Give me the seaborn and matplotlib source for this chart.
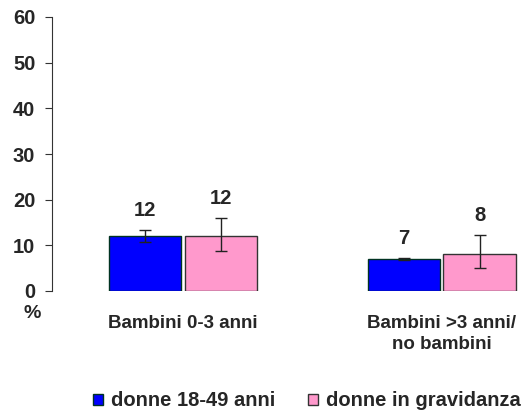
import numpy as np
import pandas as pd
import matplotlib
matplotlib.use("Agg")
import matplotlib.pyplot as plt
import seaborn as sns
from matplotlib.patches import Patch

# ── Data ───────────────────────────────────────────────────────────────────────
categories = ["Bambini 0-3 anni", "Bambini >3 anni/\nno bambini"]
groups     = ["donne 18-49 anni", "donne in gravidanza"]
values     = {"donne 18-49 anni": [12, 7], "donne in gravidanza": [12, 8]}
err_low    = {"donne 18-49 anni": [10.7, 6.7], "donne in gravidanza": [8.8, 5.1]}
err_high   = {"donne 18-49 anni": [13.3, 7.3], "donne in gravidanza": [16.0, 12.2]}
colors     = {"donne 18-49 anni": "#0000FF", "donne in gravidanza": "#FF99CC"}
edges      = {"donne 18-49 anni": "#003322", "donne in gravidanza": "#333333"}
y_ticks    = [0, 10, 20, 30, 40, 50, 60]

rows = []
for g in groups:
    for c, v, lo, hi in zip(categories, values[g], err_low[g], err_high[g]):
        rows.append({"cat": c, "group": g, "val": v, "lo": lo, "hi": hi})
df = pd.DataFrame(rows)

sns.set_style("white")
plt.rcParams["font.family"] = ["Liberation Sans", "DejaVu Sans"]
plt.rcParams["font.weight"] = "bold"
FS = 14

fig = plt.figure(figsize=(5.29, 4.16), dpi=100)
ax = fig.add_axes([52 / 529, 1 - 291 / 416, (527 - 52) / 529, (291 - 17) / 416])

sns.barplot(data=df, x="cat", y="val", hue="group", order=categories,
            hue_order=groups, palette=colors, width=0.586, gap=0.045,
            saturation=1, errorbar=None, legend=False, ax=ax)

# colour edges per series and add error bars + labels
for cont, g in zip(ax.containers, groups):
    sub = df[df["group"] == g].set_index("cat").loc[categories]
    for bar, (_, r) in zip(cont, sub.iterrows()):
        bar.set_edgecolor(edges[g])
        bar.set_linewidth(1.0)
        xc = bar.get_x() + bar.get_width() / 2
        ax.errorbar(xc, r["val"], yerr=[[r["val"] - r["lo"]], [r["hi"] - r["val"]]],
                    fmt="none", ecolor="#222222", elinewidth=1.0, capsize=4, capthick=1.0)
        ax.text(xc, r["hi"] + 4.3, f"{r['val']:.0f}", ha="center", va="center",
                fontsize=14.5, fontweight="bold")

ax.set_ylim(0, 60)
ax.set_xlim(-0.506, 1.33)
ax.set_yticks(y_ticks)
ax.set_yticklabels([str(t) for t in y_ticks], fontsize=14.5, fontweight="bold")
ax.tick_params(axis="y", direction="out", length=5, width=0.8, color="#333333", pad=7, left=True)
ax.tick_params(axis="x", length=0, pad=17)
ax.set_xticks([0, 1])
ax.set_xticklabels(categories, fontsize=13.5, fontweight="bold", linespacing=1.35)
ax.set_xlabel("")
ax.set_ylabel("")
for s in ["top", "right", "bottom"]:
    ax.spines[s].set_visible(False)
ax.spines["left"].set_color("#333333")
ax.spines["left"].set_linewidth(0.8)

fig.text(32 / 529, 1 - 313 / 416, "%", ha="center", va="center", fontsize=FS, fontweight="bold")

handles = [Patch(facecolor=colors[g], edgecolor=edges[g], label=g) for g in groups]
fig.legend(handles=handles, loc="center", bbox_to_anchor=(307 / 529, 1 - 401 / 416),
           ncol=2, frameon=False, fontsize=14.5, handlelength=0.5, handleheight=0.5,
           handletextpad=0.4, columnspacing=1.6, borderpad=0)

fig.savefig("out.png", dpi=100)
